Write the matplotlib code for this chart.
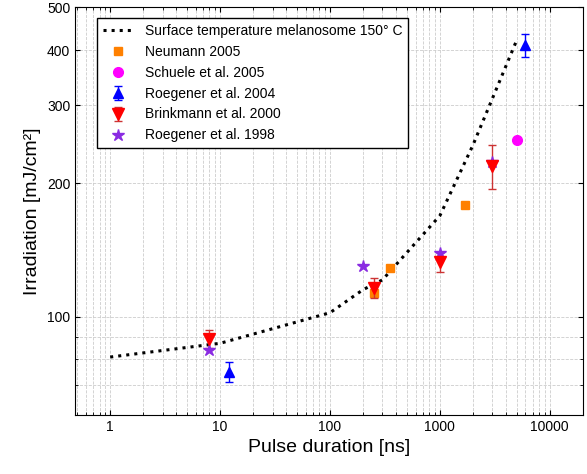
import matplotlib
matplotlib.use("Agg")
import matplotlib.pyplot as plt
from matplotlib.ticker import FixedLocator, NullFormatter

plt.rcParams['font.family'] = ['Liberation Sans', 'DejaVu Sans']

line_x = [1, 10, 100, 200, 300, 1000, 2000, 5000]
line_y = [81, 87, 102, 115, 121, 169, 244, 421]

neu_x = [250, 350, 1700]; neu_y = [113, 129, 179]
sch_x = [5000]; sch_y = [251]
r04_x = [12, 6000]; r04_y = [75, 410]; r04_e = [4, 25]
bri_x = [8, 250, 1000, 3000]; bri_y = [89, 116, 133, 219]; bri_e = [4, 6, 7, 25]
r98_x = [8, 200, 1000, 3000]; r98_y = [84, 130, 139, 223]

fig = plt.figure(figsize=(5.87, 4.74), dpi=100)
ax = fig.add_axes([0.128, 0.125, 0.865, 0.86])
ax.set_xscale('log'); ax.set_yscale('log')
h1, = ax.plot(line_x, line_y, ':', color='black', lw=2.2, label='Surface temperature melanosome 150° C')
h2, = ax.plot(neu_x, neu_y, 's', color='#ff8000', ms=6, ls='none', label='Neumann 2005')
h3, = ax.plot(sch_x, sch_y, 'o', color='#ff00ff', ms=7, ls='none', label='Schuele et al. 2005')
h4 = ax.errorbar(r04_x, r04_y, yerr=r04_e, fmt='^', color='#0000ff', ms=7, capsize=3, elinewidth=1, label='Roegener et al. 2004')
h5 = ax.errorbar(bri_x, bri_y, yerr=bri_e, fmt='v', color='#ff0000', ms=8, capsize=3, elinewidth=1, ecolor='#cc3333', label='Brinkmann et al. 2000')
h6, = ax.plot(r98_x, r98_y, '*', color='#8a2be2', ms=9, ls='none', label='Roegener et al. 1998')
ax.set_xlim(0.48, 20000)
ax.set_ylim(60, 500)
ax.set_xticks([1, 10, 100, 1000, 10000])
ax.set_xticklabels(['1', '10', '100', '1000', '10000'])
ax.yaxis.set_major_locator(FixedLocator([100, 200, 300, 400, 500]))
ax.set_yticklabels(['100', '200', '300', '400', '500'])
ax.yaxis.set_minor_formatter(NullFormatter())
ax.grid(True, which='both', ls='--', color='#cccccc', lw=0.6)
ax.tick_params(which='both', direction='in', top=True, right=True)
ax.set_xlabel('Pulse duration [ns]', fontsize=14)
ax.set_ylabel('Irradiation [mJ/cm²]', fontsize=14)
ax.legend([h1, h2, h3, h4, h5, h6], [h.get_label() for h in [h1, h2, h3, h4, h5, h6]],
          loc='upper left', fontsize=10, frameon=True, fancybox=False, edgecolor='black',
          framealpha=1, handlelength=2.2, bbox_to_anchor=(0.03, 0.99))
fig.savefig('out.png', dpi=100)
